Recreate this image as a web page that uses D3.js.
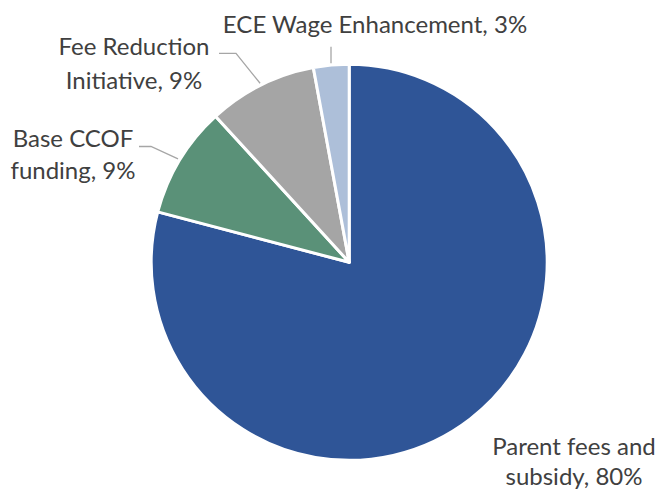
<!DOCTYPE html>
<html>
<head>
<meta charset="utf-8">
<script src="https://cdn.jsdelivr.net/npm/d3@7"></script>
<style>
    body { margin: 0; background: #fff; }
    svg { display: block; }
    .label { font-family: Lato, "Open Sans", sans-serif; fill: #404040; }
</style>
</head>
<body>
<script>
const categories = ["Parent fees and subsidy", "Base CCOF funding", "Fee Reduction Initiative", "ECE Wage Enhancement"];
const shares = [79.1, 9.1, 8.9, 2.9];
const pctLabels = ["80%", "9%", "9%", "3%"];
const labelLines = [
    ["Parent fees and", "subsidy, 80%"],
    ["Base CCOF", "funding, 9%"],
    ["Fee Reduction", "Initiative, 9%"],
    ["ECE Wage Enhancement, 3%"]
];
const colors = ["#2F5597", "#5A9178", "#A5A5A5", "#ADBFD9"];

document.addEventListener("DOMContentLoaded", () => {
    const width = 658;
    const height = 494;
    const cx = 349.2;
    const cy = 262.3;
    const radius = 198;

    const svg = d3.select("body")
        .append("svg")
        .attr("width", width)
        .attr("height", height);

    const pie = d3.pie().sort(null).value(d => d.value);
    const data = pie(categories.map((c, i) => ({ name: c, value: shares[i], pct: pctLabels[i], lines: labelLines[i] })));

    const arc = d3.arc().innerRadius(0).outerRadius(radius);
    const edgeArc = d3.arc().innerRadius(radius + 2).outerRadius(radius + 2);

    const g = svg.append("g").attr("transform", `translate(${cx},${cy})`);

    g.selectAll("path")
        .data(data)
        .enter()
        .append("path")
        .attr("d", arc)
        .attr("fill", (d, i) => colors[i])
        .attr("stroke", "#fff")
        .attr("stroke-width", 3)
        .attr("stroke-linejoin", "round");

    // label anchor positions (absolute), line spacing per label
    const labelPos = [
        { x: 574, y: 455, dy: 30, leader: null },
        { x: 73, y: 147, dy: 32, leader: [139, 146.5, 151, 146.5] },
        { x: 134, y: 55, dy: 34, leader: [219, 53.3, 236, 53.3] },
        { x: 375, y: 33, dy: 0, leader: null }
    ];

    const leaders = svg.append("g")
        .attr("fill", "none")
        .attr("stroke", "#A6A6A6")
        .attr("stroke-width", 1.3);

    data.forEach((d, i) => {
        const p = labelPos[i];
        const end = edgeArc.centroid(d);
        const ex = cx + end[0];
        const ey = cy + end[1];
        if (p.leader) {
            const [x0, y0, x1, y1] = p.leader;
            leaders.append("path").attr("d", `M${x0},${y0}L${x1},${y1}L${ex},${ey}`);
        } else if (i === 3) {
            leaders.append("path").attr("d", `M${ex},46.7L${ex},${ey}`);
        }

        const t = svg.append("text")
            .attr("class", "label")
            .attr("text-anchor", "middle")
            .attr("font-size", 24);
        d.data.lines.forEach((line, j) => {
            t.append("tspan")
                .attr("x", p.x)
                .attr("y", p.y + j * p.dy)
                .text(line);
        });
    });
});
</script>
</body>
</html>
